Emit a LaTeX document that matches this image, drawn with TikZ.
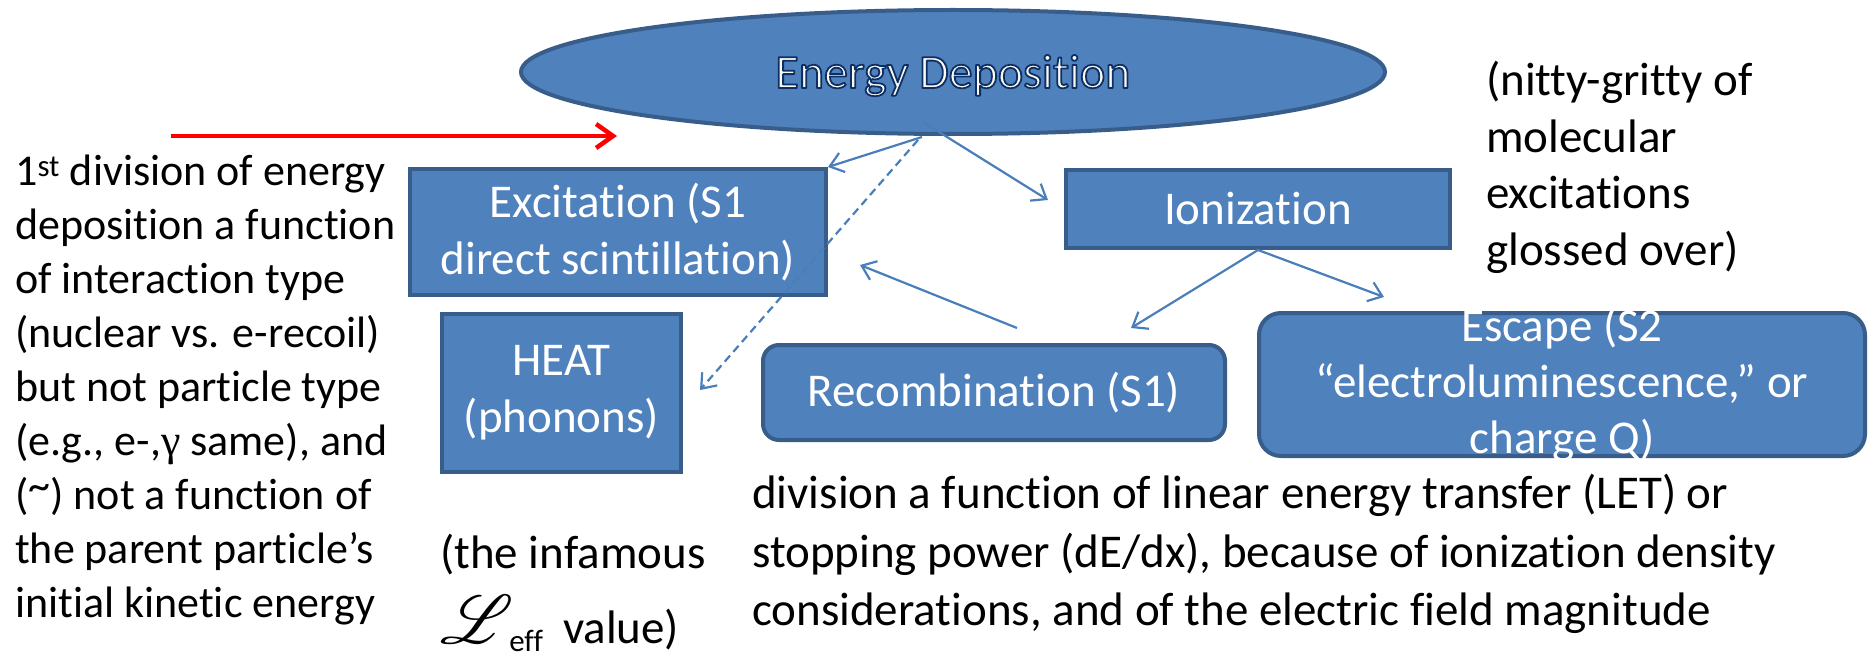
\documentclass[tikz,border=0pt]{standalone}
\usepackage{fontspec}
\setmainfont{Carlito}[Ligatures=NoCommon]
\newfontfamily\greekserif{Liberation Serif}
\usepackage{mathrsfs}
\usetikzlibrary{arrows.meta,shapes.geometric}
\definecolor{boxfill}{HTML}{4F81BD}
\definecolor{boxline}{HTML}{385D8A}
\definecolor{conncol}{HTML}{4A7EBB}
\definecolor{edtext}{HTML}{FAFAF0}
\newcommand{\outlinedtext}[1]{{\color{edtext}\special{pdf:literal direct 2 Tr 1.8 w 1 j 0.055 0.184 0.4 RG}#1\special{pdf:literal direct 0 Tr}}}
\tikzset{
  box/.style={draw=boxline, fill=boxfill, line width=4bp, text=white,
    inner sep=0pt, align=center, font=\fontsize{47bp}{57bp}\selectfont},
  rbox/.style={box, rounded corners=16bp},
  boxtext/.style={inner sep=0pt, align=center, text=white,
    font=\fontsize{47bp}{56bp}\selectfont},
  conn/.style={draw=conncol, line width=2.2bp,
    -{Straight Barb[length=13bp,width=20bp]}},
  dconn/.style={conn, dash pattern=on 8bp off 5bp},
  redarrow/.style={draw=red, line width=4.5bp,
    -{Straight Barb[length=17bp,width=24bp]}},
  plaintext/.style={inner sep=0pt, align=left, text=black},
}
\begin{document}
\begin{tikzpicture}[x=1bp,y=-1bp]
\useasboundingbox (0,0) rectangle (1873,660);

% ellipse
\node[ellipse, draw=boxline, fill=boxfill, line width=4bp, inner sep=0pt,
  minimum width=864bp, minimum height=124bp, text height=44bp, text depth=12bp,
  font=\fontsize{48bp}{58bp}\selectfont] (ed) at (953,72) {\outlinedtext{Energy Deposition}};

% boxes
\node[box, minimum width=416bp, minimum height=126bp] (exc) at (618,232)
  {Excitation (S1\\direct scintillation)};
\node[box, minimum width=239bp, minimum height=158bp] (heat) at (561.5,393)
  {HEAT\\(phonons)};
\node[box, minimum width=384bp, minimum height=78bp] (ion) at (1258,209)
  {Ionization};
\node[rbox, minimum width=462bp, minimum height=95bp] (rec) at (994,392.5)
  {Recombination (S1)};
\node[rbox, rounded corners=22bp, minimum width=606bp, minimum height=143bp] (esc) at (1562,384.5) {};
\node[boxtext] (esctext) at (esc.center)
  {Escape (S2\\“electroluminescence,” or\\charge Q)};

% connectors
\draw[conn] ([shift={(-31,1)}]ed.south) -- (exc.north east);
\draw[dconn] ([shift={(-35,4)}]ed.south) -- ([shift={(17,-3)}]heat.east);
\draw[conn] ([shift={(-30,-14)}]ed.south) -- ([shift={(-16,-9)}]ion.west);
\draw[conn] (ion.south) -- ([shift={(137,-15)}]rec.north);
\draw[conn] (ion.south) -- ([shift={(-178,-14)}]esc.north);
\draw[conn] ([shift={(23,-15)}]rec.north) -- ([shift={(32,33)}]exc.east);

% red arrow
\coordinate (rs) at (171,136);
\coordinate (re) at (617,136);
\draw[redarrow] (rs) -- (re);

% left text
\node[plaintext, anchor=north west, font=\fontsize{44bp}{54bp}\selectfont] (lefttext) at (15,155)
  {1\textsuperscript{st} division of energy\\
   deposition a function\\
   of interaction type\\
   (nuclear vs. e-recoil)\\
   but not particle type\\
   (e.g., e-,{\greekserif γ} same), and\\
   (\raisebox{9bp}{\textasciitilde}) not a function of\\
   the parent particle’s\\
   initial kinetic energy};

% right text
\node[plaintext, anchor=north west, font=\fontsize{47bp}{56.5bp}\selectfont] (righttext) at (1486,61)
  {(nitty-gritty of\\molecular\\excitations\\glossed over)};

% bottom text
\node[plaintext, anchor=north west, font=\fontsize{47bp}{58.5bp}\selectfont] (bottomtext) at (752,474)
  {division a function of linear energy transfer (LET) or\\
   stopping power (dE/dx), because of ionization density\\
   considerations, and of the electric field magnitude};

% Leff text
\node[plaintext, anchor=north west, font=\fontsize{47bp}{57bp}\selectfont] (lefftext) at (440,534)
  {(the infamous\\[18bp]
   \resizebox{!}{48bp}{$\mathscr{L}$}\hspace{-4bp}\raisebox{-8bp}{\fontsize{31bp}{31bp}\selectfont eff}\hspace{20bp}value)};
\end{tikzpicture}
\end{document}
